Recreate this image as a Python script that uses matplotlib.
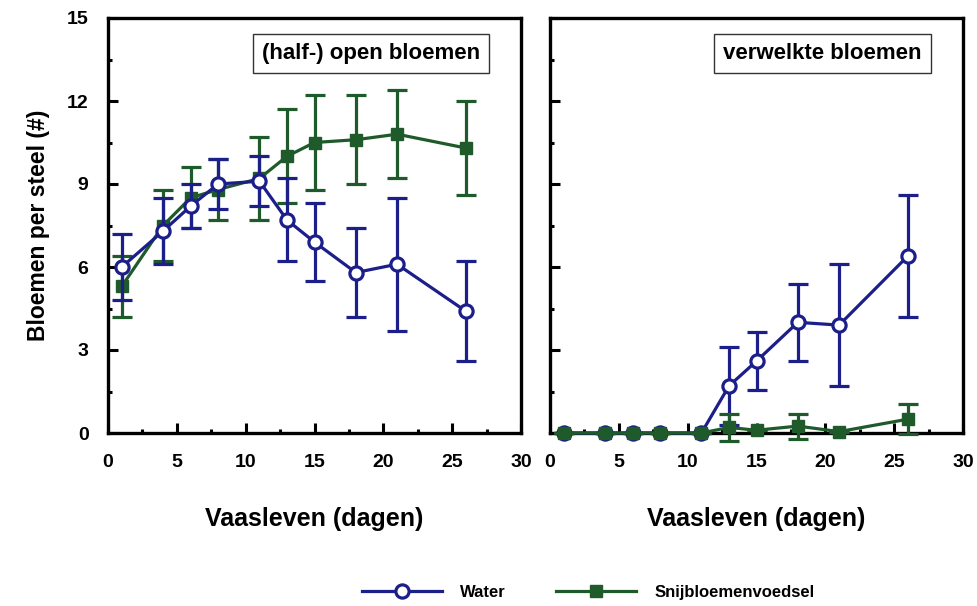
import matplotlib
matplotlib.use("Agg")
import matplotlib.pyplot as plt
from matplotlib.ticker import MultipleLocator
from matplotlib.lines import Line2D

plt.rcParams['font.family'] = ['Liberation Sans', 'DejaVu Sans']
plt.rcParams['font.weight'] = 'bold'

days = [1, 4, 6, 8, 11, 13, 15, 18, 21, 26]

# (half-) open flowers per stem
open_water = [6.0, 7.3, 8.2, 9.0, 9.1, 7.7, 6.9, 5.8, 6.1, 4.4]
open_water_err = [1.2, 1.2, 0.8, 0.9, 0.9, 1.5, 1.4, 1.6, 2.4, 1.8]
open_food = [5.3, 7.5, 8.5, 8.8, 9.2, 10.0, 10.5, 10.6, 10.8, 10.3]
open_food_err = [1.1, 1.3, 1.1, 1.1, 1.5, 1.7, 1.7, 1.6, 1.6, 1.7]

# wilted flowers per stem
wilt_water = [0, 0, 0, 0, 0, 1.7, 2.6, 4.0, 3.9, 6.4]
wilt_water_err = [0, 0, 0, 0, 0, 1.4, 1.05, 1.4, 2.2, 2.2]
wilt_food = [0, 0, 0, 0, 0, 0.2, 0.1, 0.25, 0.05, 0.5]
wilt_food_err = [0, 0, 0, 0, 0, 0.5, 0.0, 0.45, 0.0, 0.55]

series_labels = ["Water", "Snijbloemenvoedsel"]
panel_titles = ["(half-) open bloemen", "verwelkte bloemen"]
x_label = "Vaasleven (dagen)"
y_label = "Bloemen per steel (#)"

BLUE = "#1c1e8a"
GREEN = "#1f5a2a"

fig = plt.figure(figsize=(9.77, 6.06), dpi=100)
ax1 = fig.add_axes([108 / 977, 1 - 433 / 606, 413 / 977, 415 / 606])
ax2 = fig.add_axes([550 / 977, 1 - 433 / 606, 413 / 977, 415 / 606])


def draw_water(ax, y, err, z):
    ax.errorbar(days, y, yerr=err, color=BLUE, lw=2.3, elinewidth=2.3,
                capsize=7, capthick=2.3, marker='o', ms=9.5, mfc='white',
                mec=BLUE, mew=2.3, zorder=z, clip_on=False)


def draw_food(ax, y, err, z):
    ax.errorbar(days, y, yerr=err, color=GREEN, lw=2.3, elinewidth=2.3,
                capsize=7, capthick=2.3, marker='s', ms=9, mfc=GREEN,
                mec=GREEN, zorder=z, clip_on=False)


draw_food(ax1, open_food, open_food_err, 3)
draw_water(ax1, open_water, open_water_err, 4)
draw_water(ax2, wilt_water, wilt_water_err, 3)
draw_food(ax2, wilt_food, wilt_food_err, 4)

for i, ax in enumerate((ax1, ax2)):
    ax.set_xlim(0, 30)
    ax.set_ylim(0, 15)
    for s in ax.spines.values():
        s.set_linewidth(2.4)
    ax.xaxis.set_major_locator(MultipleLocator(5))
    ax.xaxis.set_minor_locator(MultipleLocator(2.5))
    ax.yaxis.set_major_locator(MultipleLocator(3))
    ax.yaxis.set_minor_locator(MultipleLocator(1.5))
    ax.tick_params(which='major', direction='in', length=7, width=2.2,
                   labelsize=14, top=False, right=False)
    ax.tick_params(which='minor', direction='in', length=3, width=2.2,
                   top=False, right=False)
    ax.tick_params(axis='x', which='major', pad=15)
    ax.tick_params(axis='y', which='major', pad=14)
    ax.set_xlabel(x_label, fontsize=18, fontweight='bold', labelpad=26)
    ax.text(0.9, 0.914, panel_titles[i], transform=ax.transAxes,
            ha='right', va='center', fontsize=16, fontweight='bold',
            bbox=dict(boxstyle='square,pad=0.4', fc='white', ec='#333333', lw=1.0),
            zorder=6)

ax2.tick_params(axis='y', labelleft=False)
ax1.set_ylabel(y_label, fontsize=16.5, fontweight='bold', labelpad=12)

handles = [
    Line2D([], [], color=BLUE, lw=2.3, marker='o', ms=9.5, mfc='white',
           mec=BLUE, mew=2.3),
    Line2D([], [], color=GREEN, lw=2.3, marker='s', ms=9, mfc=GREEN, mec=GREEN),
]
fig.legend(handles, series_labels, loc='center', bbox_to_anchor=(0.602, 0.023),
           ncol=2, frameon=False, handlelength=4.8, handletextpad=1.1,
           columnspacing=3.0, prop={'size': 12, 'weight': 'bold'})

fig.savefig("out.png", dpi=100, facecolor='white')
